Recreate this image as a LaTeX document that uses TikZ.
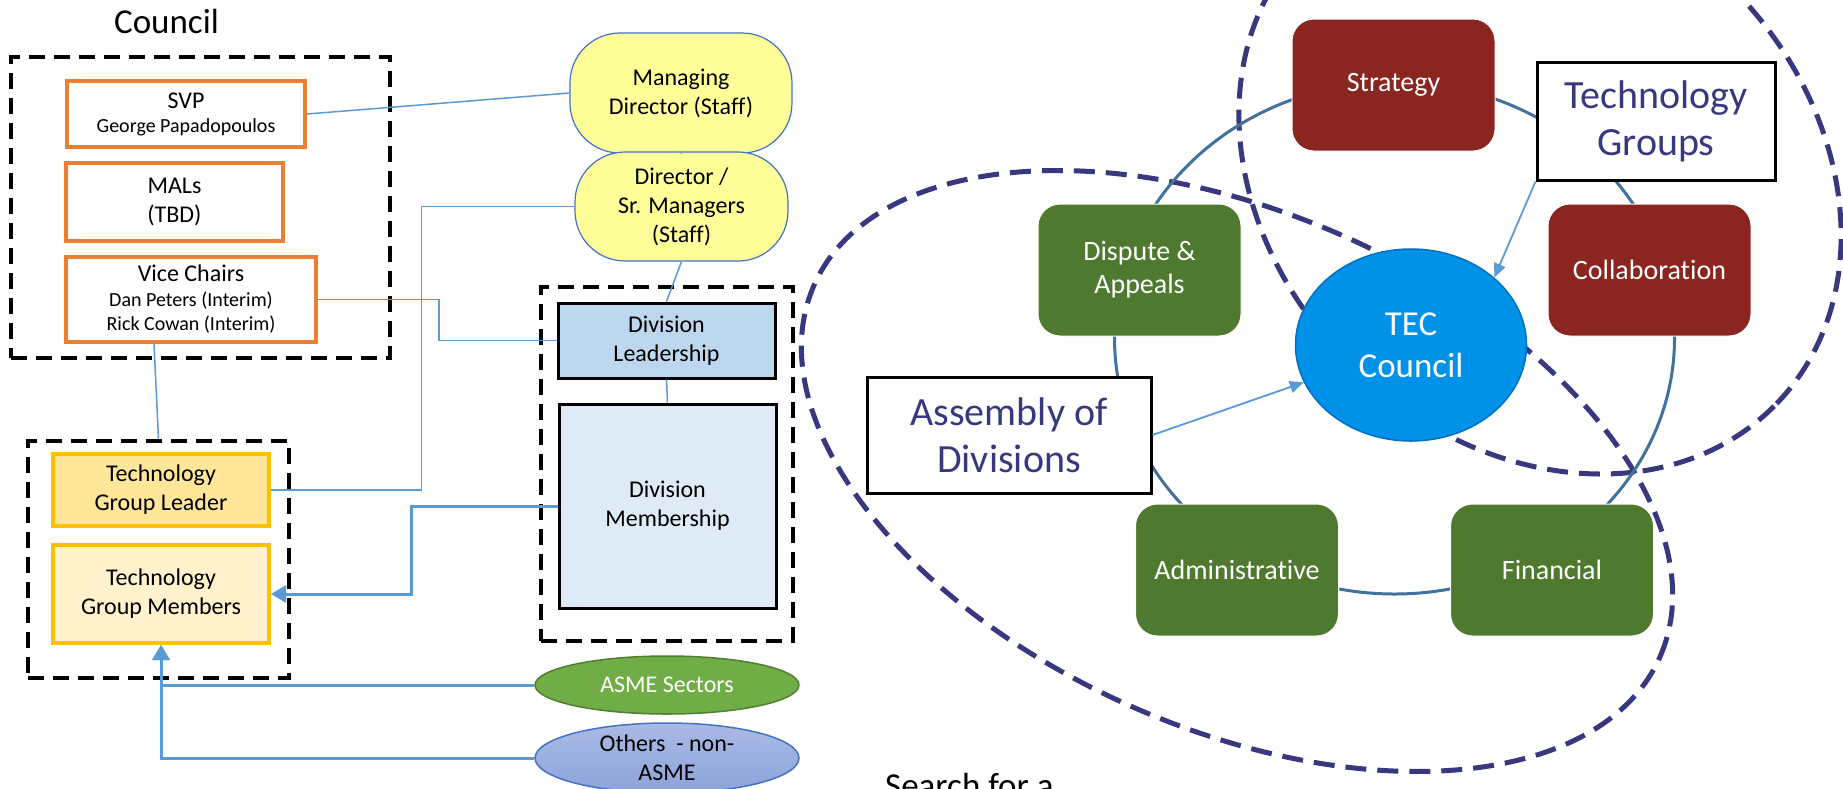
\documentclass[tikz,border=0pt]{standalone}
\usepackage{fontspec}
\setmainfont{Carlito}[Ligatures=NoCommon]
\usetikzlibrary{shapes.geometric,arrows.meta}
\definecolor{orangeB}{HTML}{ED7D31}
\definecolor{goldB}{HTML}{FFC000}
\definecolor{leaderF}{HTML}{FFE699}
\definecolor{membersF}{HTML}{FFF2CC}
\definecolor{yellowF}{HTML}{FFFF99}
\definecolor{staffB}{HTML}{4472C4}
\definecolor{dlF}{HTML}{BDD7EE}
\definecolor{dmF}{HTML}{DEEBF7}
\definecolor{asmeF}{HTML}{70AD47}
\definecolor{asmeB}{HTML}{507E32}
\definecolor{othTop}{HTML}{AABAE5}
\definecolor{othBot}{HTML}{8CA3DA}
\definecolor{darkred}{RGB}{138,37,32}
\definecolor{dgreen}{RGB}{78,121,46}
\definecolor{tecF}{RGB}{0,145,232}
\definecolor{tecB}{RGB}{0,112,192}
\definecolor{cycC}{RGB}{65,113,156}
\definecolor{navy}{RGB}{55,56,125}
\definecolor{lineblue}{RGB}{91,155,213}
\begin{document}
\begin{tikzpicture}[x=1pt,y=-1pt,
  dashbox/.style={draw=black, line width=4.5pt, dash pattern=on 16pt off 9pt, inner sep=0pt},
  orangebox/.style={draw=orangeB, line width=4pt, fill=white, align=center, inner sep=0pt, font=\fontsize{24}{29}\selectfont},
  goldbox/.style={draw=goldB, line width=4pt, align=center, inner sep=0pt, minimum width=216pt, font=\fontsize{24}{29}\selectfont},
  staffbox/.style={draw=staffB, line width=1.2pt, fill=yellowF, rounded corners=50pt, align=center, inner sep=0pt, font=\fontsize{24}{29}\selectfont},
  divbox/.style={draw=black, line width=3pt, align=center, inner sep=0pt, minimum width=217pt, font=\fontsize{24}{29}\selectfont},
  ellbox/.style={ellipse, align=center, inner sep=0pt, minimum width=264pt, line width=1.5pt, font=\fontsize{24}{29}\selectfont},
  conn/.style={draw=lineblue, line width=1.5pt},
  thickarrow/.style={draw=lineblue, line width=3pt, -{Triangle[length=15pt,width=17pt]}},
  thinarrow/.style={draw=lineblue, line width=1.8pt, -{Triangle[length=14pt,width=12pt]}},
  rbox/.style={rounded corners=22pt, minimum width=203pt, minimum height=132pt, text=white, draw=white, line width=1pt, align=center, inner sep=0pt, font=\fontsize{28}{33}\selectfont},
  labelbox/.style={draw=black, line width=3pt, fill=white, text=navy, align=center, inner sep=0pt, font=\fontsize{40}{47}\selectfont},
  navydash/.style={draw=navy, line width=5pt, dash pattern=on 21pt off 11pt},
  cyc/.style={draw=cycC, line width=3pt}
]
\useasboundingbox (0,0) rectangle (1843,788);
\clip (0,0) rectangle (1843,788);
\fill[white] (0,0) rectangle (1843,788);

% ---------------- left part ----------------
\node[anchor=base, inner sep=0pt, font=\fontsize{35}{42}\selectfont] (title) at (166.5,33) {Council};
\node[dashbox, minimum width=379pt, minimum height=301pt] (cbox) at (200.5,207.5) {};
\node[orangebox, minimum width=238pt, minimum height=66pt, font=\fontsize{20}{24}\selectfont] (svp) at (186,114)
  {{\fontsize{24}{29}\selectfont SVP}\\George Papadopoulos};
\node[orangebox, minimum width=217pt, minimum height=78pt] (mals) at (174.5,202) {MALs\\(TBD)};
\node[orangebox, minimum width=250pt, minimum height=85pt, font=\fontsize{20}{24.5}\selectfont] (vc) at (191,299.5)
  {{\fontsize{24}{29}\selectfont Vice Chairs}\\Dan Peters (Interim)\\Rick Cowan (Interim)};

\node[dashbox, minimum width=261pt, minimum height=237pt] (tbox) at (158.5,559.5) {};
\node[goldbox, fill=leaderF, minimum height=72pt] (tgl) at (161,490) {Technology\\Group Leader};
\node[goldbox, fill=membersF, minimum height=98pt] (tgm) at (161,594) {Technology\\Group Members};

\node[staffbox, minimum width=222pt, minimum height=120pt] (md) at (681,93) {Managing\\Director (Staff)};
\node[staffbox, minimum width=213pt, minimum height=109pt] (dir) at (681.5,206.5) {Director /\\Sr. Managers\\(Staff)};

\node[dashbox, minimum width=252pt, minimum height=354pt] (dbox) at (667,464) {};
\node[divbox, fill=dlF, minimum height=75pt] (dl) at (666.5,340.5) {Division\\Leadership};
\node[divbox, fill=dmF, minimum height=204pt] (dm) at (667.5,506) {Division\\Membership};

\node[ellbox, draw=asmeB, fill=asmeF, text=white, minimum height=58pt] (asme) at (667,685) {ASME Sectors};
\node[ellbox, draw=staffB, top color=othTop, bottom color=othBot, minimum height=70pt] (oth) at (667,758) {Others\ \ - non-\\ASME};

\draw[conn] (svp.east) -- (md.west);
\draw[conn] (md.south) -- (dir.north);
\draw[conn] (vc.east) -- ++(121,0) |- (dl.west);
\draw[conn] (dir.west) -- ++(-153,0) |- (tgl.east);
\draw[conn] (dir.south) -- (dl.north);
\draw[conn] (dl.south) -- (dm.north);
\draw[conn] ([xshift=-37pt]vc.south) -- (tbox.north);
\draw[thickarrow] (dm.west) -- ++(-146,0) |- (tgm.east);
\draw[thickarrow] (asme.west) -| (tgm.south);
\draw[thickarrow] (oth.west) -| (tgm.south);

% ---------------- right part ----------------
\draw[navydash, rotate around={-23.7:(1237,471)}] (1237,471) ellipse [x radius=462pt, y radius=258pt];
\draw[navydash, rotate around={-44:(1540,175)}] (1540,175) ellipse [x radius=329pt, y radius=268pt];
\draw[cyc] (1394.5,338) ellipse [x radius=280pt, y radius=256pt];

\node[rbox, fill=darkred] (strat) at (1393.5,85) {Strategy};
\node[rbox, fill=darkred] (collab) at (1649.5,270) {Collaboration};
\node[rbox, fill=dgreen] (disp) at (1139.5,270) {Dispute \&\\Appeals};
\node[rbox, fill=dgreen] (admin) at (1237,570) {Administrative};
\node[rbox, fill=dgreen] (fin) at (1552,570) {Financial};

\node[ellipse, draw=tecB, line width=1.5pt, fill=tecF, text=white, minimum width=231pt, minimum height=192pt, inner sep=0pt, align=center, font=\fontsize{35}{42}\selectfont] (tec) at (1411,345) {TEC\\Council};

\node[labelbox, minimum width=238pt, minimum height=118pt] (tg) at (1656,121) {Technology\\Groups};
\node[labelbox, minimum width=284pt, minimum height=116pt] (asm) at (1009,435) {Assembly of\\Divisions};

\draw[thinarrow] (asm.east) -- (tec);
\draw[thinarrow] (tg.south west) -- (tec.39);

\node[anchor=base west, inner sep=0pt, font=\fontsize{35}{42}\selectfont] (search) at (885,797) {Search for a};
\end{tikzpicture}
\end{document}
